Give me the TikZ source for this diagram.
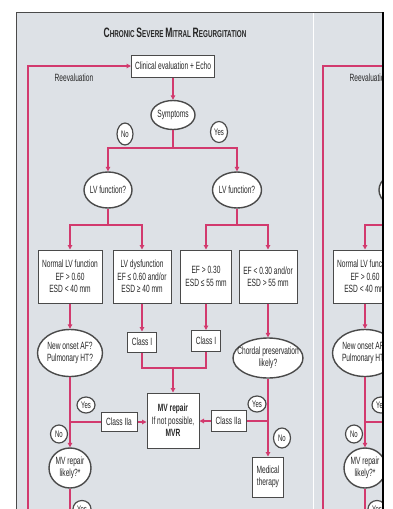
\documentclass[tikz,border=0pt]{standalone}
\usepackage{fontspec}
\setmainfont{Liberation Sans}[FakeStretch=0.63]
\usetikzlibrary{shapes.geometric,arrows.meta}
\definecolor{panel}{HTML}{DDE1E6}
\definecolor{pinkline}{HTML}{D23A6E}
\definecolor{edgegray}{HTML}{4A4A4A}
\tikzset{
  txt/.style={font=\fontsize{10.5}{12.5}\selectfont, align=center, inner sep=0pt, text=black!85},
  boxn/.style={txt, rectangle, fill=white, draw=edgegray, line width=1pt},
  oval/.style={ellipse, inner sep=0pt, fill=white, draw=edgegray, line width=1.4pt},
  yn/.style={ellipse, inner sep=0pt, fill=white, draw=edgegray, line width=1.2pt},
  link/.style={draw=pinkline, line width=1.2pt},
  arr/.style={link, -{Triangle[length=4.5pt,width=4.5pt]}},
}
% oval node: name, position, width, height, text
\newcommand\ovalnode[5]{%
  \node[oval, minimum width=#3, minimum height=#4] (#1) at #2 {};
  \node[txt] at (#1) {#5};}
\newcommand\ynnode[5]{%
  \node[yn, minimum width=#3, minimum height=#4] (#1) at #2 {};
  \node[txt, font=\fontsize{9.5}{10}\selectfont] at (#1) {#5};}
\newcommand\scword[2]{{\fontsize{13.6}{15}\selectfont #1}{\fontsize{10}{12}\selectfont #2}}
\newcommand\mychart{%
  \node[boxn, minimum width=83pt, minimum height=22pt] (clin) at (173,66) {Clinical evaluation + Echo};
  \node[txt] (reev) at (74,78) {Reevaluation};
  \ovalnode{sym}{(173,115)}{44pt}{29pt}{Symptoms}
  \ynnode{no1}{(125,134)}{16pt}{22pt}{No}
  \ynnode{yes1}{(219,132)}{17pt}{21pt}{Yes}
  \ovalnode{lvl}{(108,190)}{48pt}{36pt}{LV function?}
  \ovalnode{lvr}{(237,190)}{49pt}{36pt}{LV function?}
  \node[boxn, minimum width=64pt, minimum height=53pt] (b1) at (70,276.5) {Normal LV function\\EF > 0.60\\ESD < 40 mm};
  \node[boxn, minimum width=58pt, minimum height=53pt] (b2) at (142,276.5) {LV dysfunction\\EF ≤ 0.60 and/or\\ESD ≥ 40 mm};
  \node[boxn, minimum width=51pt, minimum height=53pt] (b3) at (206,276.5) {EF > 0.30\\ESD ≤ 55 mm};
  \node[boxn, minimum width=58pt, minimum height=53pt] (b4) at (268,276.5) {EF < 0.30 and/or\\ESD > 55 mm};
  \ovalnode{af}{(70,353)}{65pt}{47pt}{New onset AF?\\Pulmonary HT?}
  \node[boxn, minimum width=29pt, minimum height=20pt] (c1) at (142,342) {Class I};
  \node[boxn, minimum width=29pt, minimum height=21pt] (c2) at (206,341) {Class I};
  \ovalnode{chord}{(268,358)}{70pt}{40pt}{Chordal preservation\\likely?}
  \node[boxn, minimum width=52pt, minimum height=55pt] (mvr) at (173,420.5) {\textbf{MV repair}\\If not possible,\\\textbf{MVR}};
  \node[boxn, minimum width=36pt, minimum height=19pt] (c3) at (119,422) {Class IIa};
  \node[boxn, minimum width=35pt, minimum height=21pt] (c4) at (228.5,421) {Class IIa};
  \ynnode{yes2}{(86,405)}{18pt}{16pt}{Yes}
  \ynnode{no2}{(59,434)}{17pt}{18pt}{No}
  \ovalnode{mvl}{(70,468)}{42pt}{40pt}{MV repair\\likely?*}
  \ynnode{yes3}{(257,404)}{18pt}{16pt}{Yes}
  \ynnode{no3}{(282,438)}{17pt}{20pt}{No}
  \node[boxn, minimum width=31pt, minimum height=40pt] (med) at (268,477) {Medical\\therapy};
  \ynnode{yes4}{(82,509)}{18pt}{17pt}{Yes}
  % connectors
  \coordinate (reb) at (28,530);
  \draw[arr] (reb) |- (clin.west);
  \draw[arr] (clin) -- (sym);
  \coordinate (j1) at (173,148);
  \draw[link] (sym) -- (j1);
  \draw[arr] (j1) -| (lvl);
  \draw[arr] (j1) -| (lvr);
  \coordinate (j2) at (108,225);
  \draw[link] (lvl) -- (j2);
  \draw[arr] (j2) -| (b1);
  \draw[arr] (j2) -| (b2);
  \coordinate (j3) at (237,225);
  \draw[link] (lvr) -- (j3);
  \draw[arr] (j3) -| (b3);
  \draw[arr] (j3) -| (b4);
  \draw[arr] (b1) -- (af);
  \draw[arr] (b2) -- (c1);
  \draw[arr] (b3) -- (c2);
  \draw[arr] (b4) -- (chord);
  \coordinate (j4) at (173,368);
  \draw[link] (c1) |- (j4) -| (c2);
  \draw[arr] (j4) -- (mvr);
  \draw[arr] (af) -- (mvl);
  \coordinate (j5) at (70,422);
  \draw[link] (j5) -- (c3);
  \draw[arr] (c3) -- (c3 -| mvr.west);
  \draw[arr] (chord) -- (med);
  \coordinate (j6) at (268,421);
  \draw[link] (j6) -- (c4);
  \draw[arr] (c4) -- (c4 -| mvr.east);
  \coordinate (mvlb) at (70,530);
  \draw[link] (mvl) -- (mvlb);
}
\begin{document}
\begin{tikzpicture}[x=1pt,y=-1pt]
  \useasboundingbox (0,0) rectangle (392,509);
  \clip (0,0) rectangle (392,509);
  \fill[white] (0,0) rectangle (392,509);
  \fill[panel] (16,12) rectangle (383,520);
  \draw[white, line width=0.8pt] (313,12) -- (313,520);
  \node[font=\bfseries, text=black!85, inner sep=0pt] (title) at (175,33)
    {\scword{C}{HRONIC} \scword{S}{EVERE} \scword{M}{ITRAL} \scword{R}{EGURGITATION}};
  \begin{scope}
    \clip (16,12) rectangle (312,520);
    \mychart
  \end{scope}
  \begin{scope}
    \clip (314,12) rectangle (383,520);
    \begin{scope}[shift={(295,0)}, name prefix=cp-]
      \mychart
    \end{scope}
  \end{scope}
  \draw[edgegray, line width=0.8pt] (16,520) -- (16,12) -- (383,12);
  \draw[black, line width=1.5pt] (383,12) -- (383,520);
\end{tikzpicture}
\end{document}
